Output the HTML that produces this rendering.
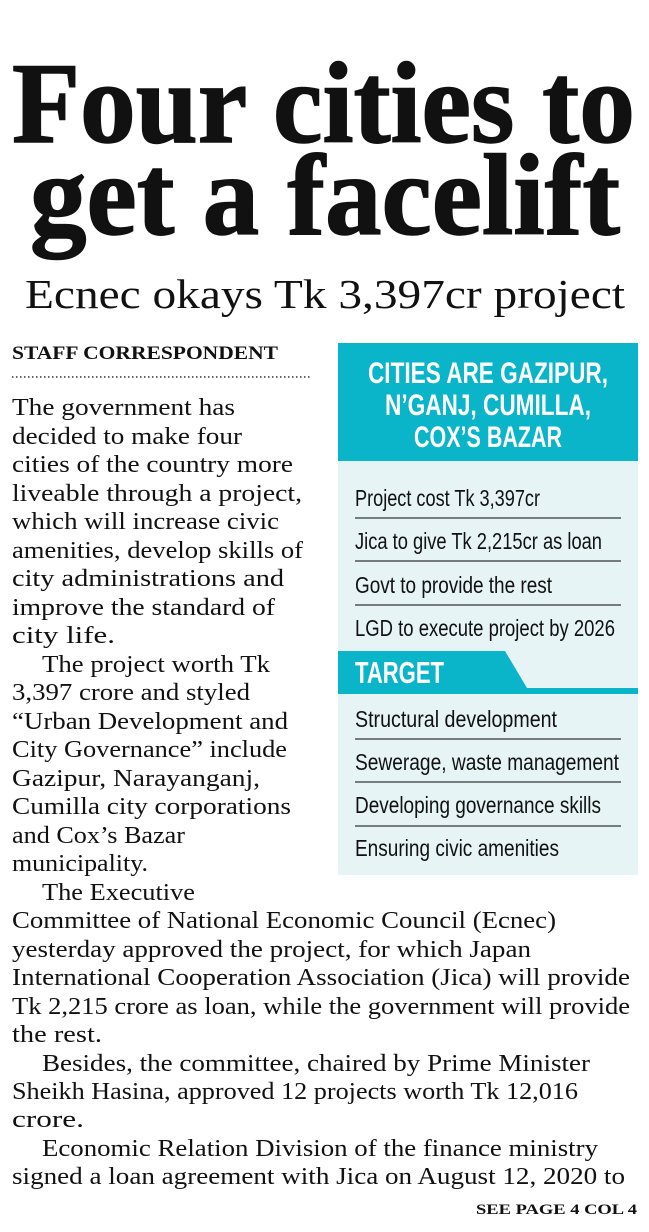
<!DOCTYPE html>
<html><head><meta charset="utf-8"><style>
html,body{margin:0;padding:0;background:#fff}
svg{display:block}
.serif{font-family:"Liberation Serif",serif;fill:#111}
.sans{font-family:"Liberation Sans",sans-serif}
</style></head><body>
<svg width="649" height="1232" viewBox="0 0 649 1232">
<g class="serif" font-weight="bold" stroke="#111" stroke-width="1.5">
<text x="12" y="142" font-size="116" textLength="623" lengthAdjust="spacingAndGlyphs">Four cities to</text>
<text x="30" y="234" font-size="116" textLength="590" lengthAdjust="spacingAndGlyphs">get a facelift</text>
</g>
<text class="serif" x="25" y="308" font-size="41" textLength="600" lengthAdjust="spacingAndGlyphs">Ecnec okays Tk 3,397cr project</text>
<text class="serif" x="12" y="359" font-size="19" font-weight="bold" textLength="266" lengthAdjust="spacingAndGlyphs">STAFF CORRESPONDENT</text>
<line x1="12" y1="377" x2="312" y2="377" stroke="#333" stroke-width="1.5" stroke-dasharray="1.5 2.5"/>

<g class="serif" font-size="24">
<text x="12" y="415" textLength="223" lengthAdjust="spacingAndGlyphs">The government has</text>
<text x="12" y="444" textLength="230" lengthAdjust="spacingAndGlyphs">decided to make four</text>
<text x="12" y="472" textLength="281" lengthAdjust="spacingAndGlyphs">cities of the country more</text>
<text x="12" y="501" textLength="290" lengthAdjust="spacingAndGlyphs">liveable through a project,</text>
<text x="12" y="529" textLength="267" lengthAdjust="spacingAndGlyphs">which will increase civic</text>
<text x="12" y="558" textLength="291" lengthAdjust="spacingAndGlyphs">amenities, develop skills of</text>
<text x="12" y="586" textLength="272" lengthAdjust="spacingAndGlyphs">city administrations and</text>
<text x="12" y="615" textLength="263" lengthAdjust="spacingAndGlyphs">improve the standard of</text>
<text x="12" y="643" textLength="103" lengthAdjust="spacingAndGlyphs">city life.</text>
<text x="42" y="672" textLength="228" lengthAdjust="spacingAndGlyphs">The project worth Tk</text>
<text x="12" y="700" textLength="238" lengthAdjust="spacingAndGlyphs">3,397 crore and styled</text>
<text x="12" y="729" textLength="276" lengthAdjust="spacingAndGlyphs">“Urban Development and</text>
<text x="12" y="757" textLength="275" lengthAdjust="spacingAndGlyphs">City Governance” include</text>
<text x="12" y="786" textLength="248" lengthAdjust="spacingAndGlyphs">Gazipur, Narayanganj,</text>
<text x="12" y="814" textLength="279" lengthAdjust="spacingAndGlyphs">Cumilla city corporations</text>
<text x="12" y="843" textLength="173" lengthAdjust="spacingAndGlyphs">and Cox’s Bazar</text>
<text x="12" y="871" textLength="136" lengthAdjust="spacingAndGlyphs">municipality.</text>
<text x="42" y="900" textLength="153" lengthAdjust="spacingAndGlyphs">The Executive</text>
<text x="12" y="928" textLength="544" lengthAdjust="spacingAndGlyphs">Committee of National Economic Council (Ecnec)</text>
<text x="12" y="957" textLength="519" lengthAdjust="spacingAndGlyphs">yesterday approved the project, for which Japan</text>
<text x="12" y="985" textLength="618" lengthAdjust="spacingAndGlyphs">International Cooperation Association (Jica) will provide</text>
<text x="12" y="1014" textLength="618" lengthAdjust="spacingAndGlyphs">Tk 2,215 crore as loan, while the government will provide</text>
<text x="12" y="1042" textLength="90" lengthAdjust="spacingAndGlyphs">the rest.</text>
<text x="42" y="1071" textLength="548" lengthAdjust="spacingAndGlyphs">Besides, the committee, chaired by Prime Minister</text>
<text x="12" y="1099" textLength="566" lengthAdjust="spacingAndGlyphs">Sheikh Hasina, approved 12 projects worth Tk 12,016</text>
<text x="12" y="1127" textLength="72" lengthAdjust="spacingAndGlyphs">crore.</text>
<text x="42" y="1156" textLength="556" lengthAdjust="spacingAndGlyphs">Economic Relation Division of the finance ministry</text>
<text x="12" y="1184" textLength="613" lengthAdjust="spacingAndGlyphs">signed a loan agreement with Jica on August 12, 2020 to</text>
</g>
<text class="serif" x="476" y="1214" font-size="15" font-weight="bold" textLength="161" lengthAdjust="spacingAndGlyphs">SEE PAGE 4 COL 4</text>

<g>
<rect x="338" y="343" width="300" height="532" fill="#e7f4f5"/>
<rect x="338" y="343" width="300" height="118" fill="#0ab4c9"/>
<g class="sans" font-weight="bold" fill="#fff" font-size="30" text-anchor="middle">
<text x="488" y="383" textLength="240" lengthAdjust="spacingAndGlyphs">CITIES ARE GAZIPUR,</text>
<text x="488" y="415" textLength="206" lengthAdjust="spacingAndGlyphs">N’GANJ, CUMILLA,</text>
<text x="488" y="447" textLength="148" lengthAdjust="spacingAndGlyphs">COX’S BAZAR</text>
</g>
<g class="sans" font-size="23" fill="#111">
<text x="355" y="506" textLength="185" lengthAdjust="spacingAndGlyphs">Project cost Tk 3,397cr</text>
<text x="355" y="549" textLength="247" lengthAdjust="spacingAndGlyphs">Jica to give Tk 2,215cr as loan</text>
<text x="355" y="593" textLength="197" lengthAdjust="spacingAndGlyphs">Govt to provide the rest</text>
<text x="355" y="636" textLength="260" lengthAdjust="spacingAndGlyphs">LGD to execute project by 2026</text>
</g>
<g stroke="#333" stroke-width="1.3">
<line x1="355" y1="518" x2="621" y2="518"/>
<line x1="355" y1="561" x2="621" y2="561"/>
<line x1="355" y1="605" x2="621" y2="605"/>
</g>
<polygon points="338,651 505,651 527,688 638,688 638,694 338,694" fill="#0ab4c9"/>
<text class="sans" x="355" y="683" font-size="31" font-weight="bold" fill="#fff" textLength="89" lengthAdjust="spacingAndGlyphs">TARGET</text>
<g class="sans" font-size="23" fill="#111">
<text x="355" y="727" textLength="202" lengthAdjust="spacingAndGlyphs">Structural development</text>
<text x="355" y="770" textLength="264" lengthAdjust="spacingAndGlyphs">Sewerage, waste management</text>
<text x="355" y="813" textLength="246" lengthAdjust="spacingAndGlyphs">Developing governance skills</text>
<text x="355" y="856" textLength="204" lengthAdjust="spacingAndGlyphs">Ensuring civic amenities</text>
</g>
<g stroke="#333" stroke-width="1.3">
<line x1="355" y1="739" x2="621" y2="739"/>
<line x1="355" y1="782" x2="621" y2="782"/>
<line x1="355" y1="826" x2="621" y2="826"/>
</g>
</g>
</svg>
</body></html>
